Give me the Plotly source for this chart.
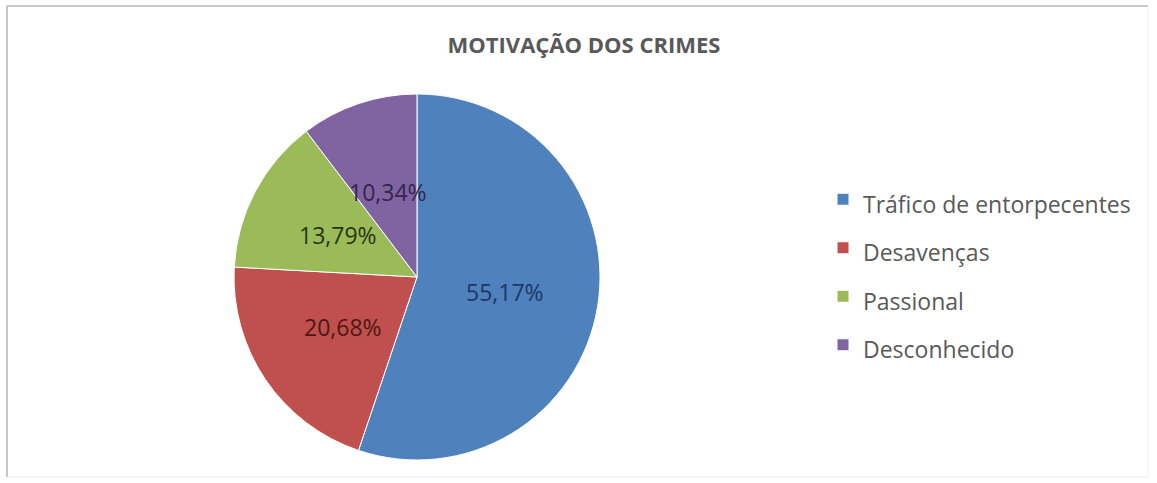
import math
import plotly.graph_objects as go

# Motivação dos crimes (percentual por categoria)
categorias = ["Tráfico de entorpecentes", "Desavenças", "Passional", "Desconhecido"]
percentuais = [55.17, 20.68, 13.79, 10.34]

cores = ["#4F81BD", "#C0504D", "#9BBB59", "#8064A2"]
cores_texto = ["#1C3768", "#4E1715", "#27360E", "#33264D"]

W, H = 1157, 483
CX, CY, R = 417, 277, 183          # pie centre and radius in pixels
R_ROTULO = 0.49 * R                 # data labels sit on the mid-angle at this radius

# legend rows are spaced by a tall legend font; the visible text is kept smaller
rotulos = [f'<span style="font-size:23px">{c}</span>' for c in categorias]

fig = go.Figure(
    go.Pie(
        labels=rotulos,
        values=percentuais,
        sort=False,
        direction="clockwise",
        rotation=0,
        marker=dict(colors=cores, line=dict(color="#FFFFFF", width=1)),
        textinfo="none",
        hoverinfo="label+value",
        domain=dict(x=[(CX - R) / W, (CX + R) / W], y=[1 - (CY + R) / H, 1 - (CY - R) / H]),
    )
)

# value labels placed at the middle angle of each slice
total = sum(percentuais)
acumulado = 0.0
anotacoes = []
for v, cor in zip(percentuais, cores_texto):
    meio = (acumulado + v / 2) / total * 2 * math.pi
    acumulado += v
    px = CX + R_ROTULO * math.sin(meio)
    py = CY - R_ROTULO * math.cos(meio)
    anotacoes.append(
        dict(
            x=px / W, y=1 - py / H, xref="paper", yref="paper",
            text=f"{v:.2f}%".replace(".", ","),
            showarrow=False, xanchor="center", yanchor="middle",
            font=dict(family="Open Sans", size=23, color=cor),
        )
    )

fig.update_layout(
    width=W,
    height=H,
    margin=dict(l=0, r=0, t=0, b=0),
    paper_bgcolor="#FFFFFF",
    plot_bgcolor="#FFFFFF",
    separators=", ",
    title=dict(
        text="<b>MOTIVAÇÃO DOS CRIMES</b>",
        x=584 / W,
        xanchor="center",
        y=1 - 45 / H,
        yanchor="middle",
        font=dict(family="Open Sans", size=22, color="#595959"),
    ),
    annotations=anotacoes,
    showlegend=True,
    legend=dict(
        x=823 / W,
        xanchor="left",
        y=1 - 272 / H,
        yanchor="middle",
        font=dict(family="Open Sans", size=35, color="#595959"),
        itemwidth=30,
        bgcolor="rgba(0,0,0,0)",
    ),
    shapes=[
        dict(type="line", xref="paper", yref="paper", x0=7 / W, x1=1148 / W,
             y0=1 - 6 / H, y1=1 - 6 / H, line=dict(color="#B5B5B5", width=1.5)),
        dict(type="line", xref="paper", yref="paper", x0=7 / W, x1=7 / W,
             y0=1 - 6 / H, y1=1 - 477 / H, line=dict(color="#B5B5B5", width=1.5)),
        dict(type="line", xref="paper", yref="paper", x0=1148 / W, x1=1148 / W,
             y0=1 - 6 / H, y1=1 - 477 / H, line=dict(color="#EEEEEE", width=1)),
        dict(type="line", xref="paper", yref="paper", x0=7 / W, x1=1148 / W,
             y0=1 - 477 / H, y1=1 - 477 / H, line=dict(color="#EEEEEE", width=1)),
    ],
)

fig.write_html("out.html")
